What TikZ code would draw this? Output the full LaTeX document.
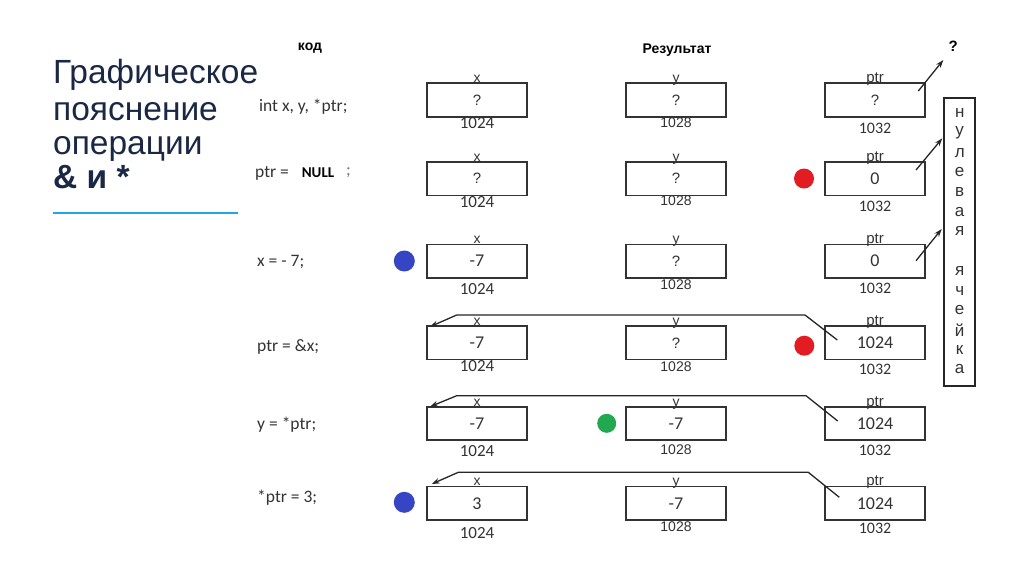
\documentclass[tikz,border=0pt]{standalone}
\usepackage{fontspec}
\setmainfont{Liberation Sans}
\newfontfamily\carl{Carlito}
\usetikzlibrary{arrows.meta,calc}
\definecolor{navy}{HTML}{1A2846}
\definecolor{lineblue}{HTML}{1EA5EA}
\definecolor{dotred}{HTML}{E31B23}
\definecolor{dotblue}{HTML}{3545C4}
\definecolor{dotgreen}{HTML}{22A84F}
\definecolor{ink}{HTML}{333333}
\newcommand\qmark{{\fontspec{Liberation Sans}\fontsize{15}{18}\selectfont ?}}
\begin{document}
\begin{tikzpicture}[x=1pt,y=-1pt,
  cell/.style={draw=ink,line width=1.7pt,minimum width=100pt,minimum height=33.5pt,inner sep=0pt,text=ink,font=\carl\fontsize{18}{20}\selectfont},
  lab/.style={inner sep=0pt,text=ink,font=\fontsize{14}{16}\selectfont,anchor=base},
  addr/.style={inner sep=0pt,text=ink,font=\carl\fontsize{17}{19}\selectfont},
  addry/.style={inner sep=0pt,text=ink,font=\fontsize{14}{16}\selectfont},
  code/.style={inner sep=0pt,anchor=west,text=ink,font=\carl\fontsize{17.5}{20}\selectfont},
  head/.style={inner sep=0pt,font=\bfseries\fontsize{14}{16}\selectfont},
  ttl/.style={inner sep=0pt,anchor=base west,text=navy,font=\fontsize{33.5}{36}\selectfont},
  dot/.style={circle,inner sep=0pt,minimum size=20pt},
  ptrline/.style={draw=black!85,line width=1.3pt,-{Stealth[length=8pt,width=5.5pt]}},
  letter/.style={inner sep=0pt,text=ink,font=\fontsize{17}{19}\selectfont}]
\fill[white] (0,0) rectangle (1024,574);
\useasboundingbox (0,0) rectangle (1024,574);

% title
\node[ttl] (t1) at (53,83) {Графическое};
\node[ttl] (t2) at (53,120) {пояснение};
\node[ttl] (t3) at (53,154) {операции};
\node[ttl] (t4) at (53,188) {\bfseries\& и *};
\coordinate (bl1) at (53,213);
\coordinate (bl2) at (238,213);
\draw[lineblue,line width=2.5pt] (bl1) -- (bl2);

% headers
\node[head] (hcode) at (310,48) {код};
\node[head] (hres) at (677,50) {Результат};

% code lines
\node[code] (c1) at (259,106.7) {int x, y, *ptr;};
\node[code] (c2) at (255,173) {ptr =};
\node[inner sep=0pt,font=\carl\bfseries\fontsize{15}{17}\selectfont] (cnull) at (318,173) {NULL};
\node[code,text=black!55] (c2b) at (346,173) {;};
\node[code] (c3) at (257,261.7) {x = - 7;};
\node[code] (c4) at (257,346.7) {ptr = \&x;};
\node[code] (c5) at (257,425) {y = *ptr;};
\node[code] (c6) at (257,498) {*ptr = 3;};

% rows
\foreach \r/\cy/\xv/\yv/\pv/\da/\db/\dc in {
  1/100/\qmark/\qmark/\qmark/23.3/22.7/28,
  2/178.7/\qmark/\qmark/0/23/22/28,
  3/261.2/-7/\qmark/0/27.8/23.8/27,
  4/342.8/-7/\qmark/1024/23.2/24/26.5,
  5/423.5/-7/-7/1024/27.5/26.5/26.5,
  6/503.3/3/-7/1024/30/23.4/25}{
  \node[cell] (x\r) at (477,\cy) {\xv};
  \node[cell] (y\r) at (676,\cy) {\yv};
  \node[cell] (p\r) at (875,\cy) {\pv};
  \node[lab] (xl\r) at (477,\cy-17.5) {x};
  \node[lab] (yl\r) at (676,\cy-17.5) {y};
  \node[lab,font=\fontsize{15}{17}\selectfont] (pl\r) at (875,\cy-17.5) {ptr};
  \node[addr] (xa\r) at (477,\cy+\da) {1024};
  \node[addry] (ya\r) at (676,\cy+\db) {1028};
  \node[addr,font=\carl\fontsize{16}{18}\selectfont] (pa\r) at (875,\cy+\dc) {1032};
}

% dots
\node[dot,fill=dotred] (d2) at (804,178.5) {};
\node[dot,fill=dotblue,minimum size=21pt] (d3) at (404.3,261) {};
\node[dot,fill=dotred] (d4) at (804.3,345.7) {};
\node[dot,fill=dotgreen,minimum size=19pt] (d5) at (606.7,423.3) {};
\node[dot,fill=dotblue,minimum size=21pt] (d6) at (404.3,502.3) {};

% null cell
\node[draw=black!85,line width=1.8pt,minimum width=30.7pt,minimum height=287.4pt,inner sep=0pt] (nul) at (959.7,242) {};
\foreach \ch [count=\k] in {н,у,л,е,в,а,я,{},я,ч,е,й,к,а}{
  \node[letter] (L\k) at (959.7,{113.3+19.7*(\k-1)}) {\ch};
}
\node[inner sep=0pt,font=\bfseries\fontsize{15}{17}\selectfont] (qtop) at (953.3,46.7) {?};

% arrows to the null cell / unknown
\coordinate (a1s) at (918.3,91);
\coordinate (a1e) at (943.3,60);
\coordinate (a2s) at (916,170);
\coordinate (a2e) at (942.3,138.3);
\coordinate (a3s) at (916,260.7);
\coordinate (a3e) at (941.7,229);
\draw[ptrline] (a1s) -- (a1e);
\draw[ptrline] (a2s) -- (a2e);
\draw[ptrline] (a3s) -- (a3e);

% pointer arrows
\coordinate (s4) at (837.3,340);
\coordinate (k4a) at (805,315);
\coordinate (k4b) at (456.7,315);
\coordinate (t4) at (430,326.7);
\draw[ptrline] (s4) -- (k4a) -- (k4b) -- (t4);
\coordinate (s5) at (837.7,421);
\coordinate (k5a) at (806,395.7);
\coordinate (k5b) at (456.7,395.7);
\coordinate (t5) at (430,406.7);
\draw[ptrline] (s5) -- (k5a) -- (k5b) -- (t5);
\coordinate (s6) at (839.3,497.3);
\coordinate (k6a) at (808.3,472.3);
\coordinate (k6b) at (458.3,472.3);
\coordinate (t6) at (431.7,484);
\draw[ptrline] (s6) -- (k6a) -- (k6b) -- (t6);
\end{tikzpicture}
\end{document}
